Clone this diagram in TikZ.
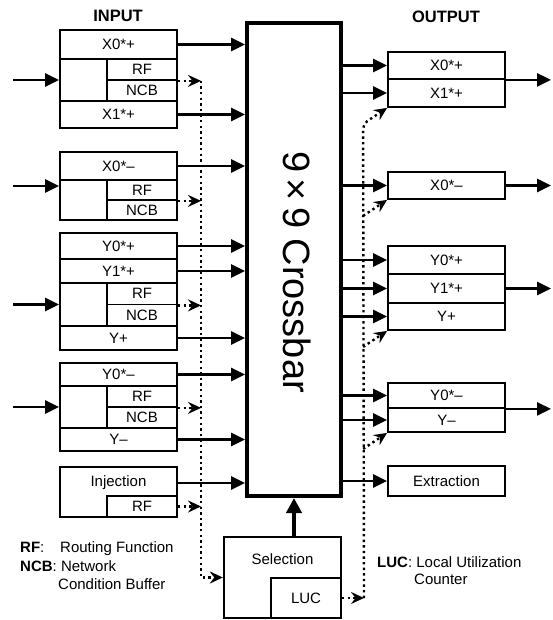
\documentclass[tikz,border=0pt]{standalone}
\usepackage{fontspec}
\setmainfont{Liberation Sans}
\usetikzlibrary{arrows.meta,calc,positioning}
\newcommand{\boxfont}{\fontsize{15}{18}\selectfont}

\begin{document}
\begin{tikzpicture}[x=1pt,y=-1pt,
  incell/.style={draw,line width=1.8pt,inner sep=0pt,minimum width=117pt,font=\boxfont},
  subcell/.style={draw,line width=1.8pt,inner sep=0pt,minimum width=70pt,font=\boxfont},
  outcell/.style={draw,line width=1.8pt,inner sep=0pt,minimum width=117pt,font=\boxfont},
  xbar/.style={draw,line width=4pt,minimum width=94pt,minimum height=473pt},
  selbox/.style={draw,line width=2.4pt,minimum width=117pt,minimum height=81pt},
  title/.style={font=\fontsize{16.5}{18}\selectfont\bfseries},
  legend/.style={font=\boxfont,inner sep=0pt,anchor=base west},
  arrow/.style={-{Triangle[length=14pt,width=13pt]},line width=2.6pt},
  uarrow/.style={-{Triangle[length=15pt,width=15pt]},line width=4pt},
  darrow/.style={-{Stealth[length=13pt,width=12pt,inset=4.5pt]},line width=2.4pt,
                 dash pattern=on 2.4pt off 3.2pt}
]
\useasboundingbox (0,0) rectangle (552,620);

% Titulos
\node[title] (tin)  at (118,16) {INPUT};
\node[title] (tout) at (446,17) {OUTPUT};

% Crossbar (centro)
\node[xbar] (xb) at (294,259.5) {};
\node[rotate=-90,font=\fontsize{38}{40}\selectfont] (xbt) at (297,272) {9\,×\,9 Crossbar};

% Entradas (izquierda)
\node[incell,minimum height=29pt] (i1a) at (118.5,44.5) {X0*+};
\node[incell,minimum height=42pt] (i1m) at (118.5,80) {};
\node[subcell,minimum height=21pt] (i1rf)  at (142,69.5) {RF};
\node[subcell,minimum height=21pt] (i1ncb) at (142,90.5) {NCB};
\node[incell,minimum height=27pt] (i1b) at (118.5,114.5) {X1*+};

\node[incell,minimum height=28pt] (i2a) at (118.5,166) {X0*–};
\node[incell,minimum height=40pt] (i2m) at (118.5,200) {};
\node[subcell,minimum height=20pt] (i2rf)  at (142,190) {RF};
\node[subcell,minimum height=20pt] (i2ncb) at (142,210) {NCB};

\node[incell,minimum height=26pt] (i3a) at (118.5,246) {Y0*+};
\node[incell,minimum height=24pt] (i3b) at (118.5,271) {Y1*+};
\node[incell,minimum height=43pt] (i3m) at (118.5,304.5) {};
\node[subcell,minimum height=21.5pt] (i3rf)  at (142,293.75) {RF};
\node[subcell,minimum height=21.5pt] (i3ncb) at (142,315.25) {NCB};
\node[incell,minimum height=24pt] (i3c) at (118.5,338) {Y+};

\node[incell,minimum height=23pt] (i4a) at (118.5,374.5) {Y0*–};
\node[incell,minimum height=42pt] (i4m) at (118.5,407) {};
\node[subcell,minimum height=21pt] (i4rf)  at (142,396.5) {RF};
\node[subcell,minimum height=21pt] (i4ncb) at (142,417.5) {NCB};
\node[incell,minimum height=23pt] (i4b) at (118.5,439.5) {Y–};

\node[incell,minimum height=50pt] (inj) at (118.5,492) {};
\node[font=\boxfont] (injt) at ($(inj.center)+(0,-9)$) {Injection};
\node[subcell,minimum height=21pt] (injrf) at (142,506.5) {RF};

% Salidas (derecha)
\node[outcell,minimum height=27pt] (o1a) at (446.5,65.5) {X0*+};
\node[outcell,minimum height=28pt] (o1b) at (446.5,93) {X1*+};
\node[outcell,minimum height=27pt] (o2a) at (446.5,185.5) {X0*–};
\node[outcell,minimum height=28pt] (o3a) at (446.5,260) {Y0*+};
\node[outcell,minimum height=29pt] (o3b) at (446.5,288.5) {Y1*+};
\node[outcell,minimum height=27pt] (o3c) at (446.5,316.5) {Y+};
\node[outcell,minimum height=25pt] (o4a) at (446.5,395.5) {Y0*–};
\node[outcell,minimum height=24pt] (o4b) at (446.5,420) {Y–};
\node[outcell,minimum height=30pt] (ext) at (446.5,481) {Extraction};

% Seleccion (abajo)
\node[selbox] (sel) at (282.5,577.5) {};
\node[font=\boxfont] (selt) at (282.5,559) {Selection};
\node[subcell,minimum height=40pt] (luc) at (306,598) {LUC};

% Leyenda
\node[legend] (lrf)   at (20,552) {\textbf{RF}:};
\node[legend] (lrft)  at (60,552) {Routing Function};
\node[legend] (lncb)  at (20,571) {\textbf{NCB}: Network};
\node[legend] (lncbt) at (58,589) {Condition Buffer};
\node[legend] (lluc)  at (377,567) {\textbf{LUC}: Local Utilization};
\node[legend] (llucb) at (414,584) {Counter};

% Coordenadas de apoyo
\coordinate (lt) at (13,0);
\coordinate (rt) at (551,0);
\coordinate (vl) at (201,0);
\coordinate (vr) at (364,0);
\coordinate (i2in) at ($(i2a.north west)!0.5!(i2m.south west)$);

% Flechas de entrada
\foreach \n in {i1m,i3m,i4m}
  \draw[arrow] (\n.west -| lt) -- (\n.west);
\draw[arrow] (i2in -| lt) -- (i2in);

% Flechas entradas -> crossbar
\foreach \n in {i1a,i1b,i2a,i3a,i3b,i3c,i4a,i4b}
  \draw[arrow] (\n.east) -- (\n.east -| xb.west);
\draw[arrow] (injt -| inj.east) -- (injt -| xb.west);

% Flechas crossbar -> salidas
\foreach \n in {o1a,o1b,o2a,o3a,o3b,o3c,o4a,o4b,ext}
  \draw[arrow] (\n.west -| xb.east) -- (\n.west);

% Flechas de salida
\draw[arrow] (o1a.south east) -- (o1a.south east -| rt);
\draw[arrow] (o2a.east) -- (o2a.east -| rt);
\draw[arrow] (o3b.east) -- (o3b.east -| rt);
\draw[arrow] (o4a.south east) -- (o4a.south east -| rt);

% Seleccion -> crossbar
\draw[uarrow] (sel.north -| xb.south) -- (xb.south);

% RF -> seleccion (punteado)
\foreach \n in {i1rf,i2rf,i3rf,i4rf}
  \draw[darrow] (\n.south east) -- (\n.south east -| vl);
\draw[darrow] (injrf.east) -- (injrf.east -| vl);
\draw[darrow] (i1rf.south east -| vl) -- (vl |- sel.west) -- (sel.west);

% LUC -> salidas (punteado)
\draw[darrow] (luc.east) -- (luc.east -| vr);
\draw[darrow,rounded corners=5pt] (luc.east -| vr) -- ($(o1b.south west)+(-24,16)$) -- (o1b.south west);
\foreach \n in {o2a,o3c,o4b}
  \draw[darrow] ($(\n.south west)+(-24,16)$) -- (\n.south west);

\end{tikzpicture}
\end{document}
